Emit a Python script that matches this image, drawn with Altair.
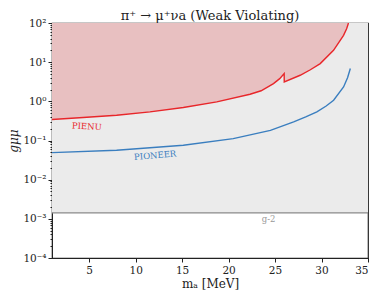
import altair as alt
import pandas as pd

# ---- data ----
pienu_m = [1.0, 4.35, 7.95, 11.54, 15.13, 18.73, 22.31, 23.5, 24.83, 25.5, 25.98, 25.99, 27.7, 28.8, 29.86, 31.29, 32.37, 32.7, 32.9]
pienu_g = [0.344, 0.386, 0.442, 0.537, 0.695, 0.966, 1.52, 1.86, 2.84, 3.8, 5.12, 3.13, 4.63, 6.4, 9.2, 20.1, 48.5, 71.0, 100.0]

pioneer_m = [1.0, 7.95, 15.13, 20.5, 24.5, 27.0, 28.3, 29.5, 30.5, 31.3, 32.37, 32.8, 33.1]
pioneer_g = [0.049, 0.0566, 0.0759, 0.112, 0.182, 0.298, 0.40, 0.537, 0.76, 1.07, 2.33, 4.0, 6.87]

g2_value = 1.42e-3
x_range = [1, 35]
y_range = [1e-4, 100]

labels_text = ["PIENU", "PIONEER", "g-2"]
labels_m = [4.75, 12.1, 24.3]
labels_g = [0.23, 0.042, 9.8e-4]
labels_angle = [3, 355, 0]
labels_color = ["#e8262a", "#3a7ebf", "#999999"]

RED = "#e8262a"
BLUE = "#3a7ebf"
SERIF = "DejaVu Serif"

pienu = pd.DataFrame({"m": pienu_m, "g": pienu_g, "top": 100.0})
pioneer = pd.DataFrame({"m": pioneer_m, "g": pioneer_g})
band = pd.DataFrame({"x1": [x_range[0]], "x2": [x_range[1]], "y1": [g2_value], "y2": [y_range[1]]})
g2 = pd.DataFrame({"m": x_range, "g": [g2_value, g2_value]})

is_major = "abs(log(datum.value)/LN10 - round(log(datum.value)/LN10)) < 1e-6"
exp_ = "round(log(datum.value)/LN10)"
label_expr = (
    f"{is_major} ? ({exp_}==2 ? '10²' : {exp_}==1 ? '10¹' : {exp_}==0 ? '10⁰' : "
    f"{exp_}==-1 ? '10⁻¹' : {exp_}==-2 ? '10⁻²' : {exp_}==-3 ? '10⁻³' : '10⁻⁴') : ''"
)
y_ticks = []
for e in range(-4, 2):
    for k in range(1, 10):
        y_ticks.append(float(f"{k}e{e}"))
y_ticks.append(100.0)

xs = alt.Scale(domain=x_range, nice=False, zero=False)
ys = alt.Scale(type="log", domain=y_range, nice=False)

xax = alt.Axis(values=[5, 10, 15, 20, 25, 30, 35], title="mₐ [MeV]", grid=False,
               tickSize=4, labelFontSize=10.5, titleFontSize=12, labelFont=SERIF, titleFont=SERIF,
               titleFontWeight="normal", labelColor="#222", titleColor="#222", domainColor="#222",
               tickColor="#222", labelPadding=3, titlePadding=3)
yax = alt.Axis(values=y_ticks, labelExpr=label_expr, title="gμμ", grid=False,
               tickSize={"condition": {"test": is_major, "value": 4}, "value": 2},
               labelOverlap=False, labelFontSize=10.5, titleFontSize=12, labelFont=SERIF,
               titleFont=SERIF, titleFontStyle="italic", titleFontWeight="normal",
               labelColor="#222", titleColor="#222", domainColor="#222", tickColor="#222",
               labelPadding=2, titlePadding=2)

band_layer = alt.Chart(band).mark_rect(color="#ebebeb", clip=True).encode(
    x=alt.X("x1:Q", scale=xs, axis=xax), x2="x2:Q",
    y=alt.Y("y1:Q", scale=ys, axis=yax), y2="y2:Q")

red_area = alt.Chart(pienu).mark_area(color="#e8c0c1", opacity=1, interpolate="linear", clip=True).encode(
    x="m:Q", y="g:Q", y2="top:Q")

red_line = alt.Chart(pienu).mark_line(color=RED, strokeWidth=1.4, clip=True).encode(
    x="m:Q", y="g:Q")

blue_line = alt.Chart(pioneer).mark_line(color=BLUE, strokeWidth=1.4, clip=True).encode(
    x="m:Q", y="g:Q")

g2_line = alt.Chart(g2).mark_line(color="#8a8a8a", strokeWidth=1.3, clip=True).encode(x="m:Q", y="g:Q")

lab = pd.DataFrame({"t": labels_text, "m": labels_m, "g": labels_g, "a": labels_angle, "c": labels_color})
text_layer = alt.Chart(lab).mark_text(font=SERIF, fontSize=8.5).encode(
    x="m:Q", y="g:Q", text="t:N", angle=alt.Angle("a:Q", scale=None),
    color=alt.Color("c:N", scale=None))

chart = alt.layer(band_layer, red_area, red_line, blue_line, g2_line, text_layer).properties(
    width=316, height=235,
    title=alt.Title("π⁺ → μ⁺νa (Weak Violating)", font=SERIF, fontSize=13,
                    fontWeight="normal", color="#222", offset=0, dy=5),
    autosize=alt.AutoSizeParams(type="none"),
    padding={"left": 44, "top": 15, "right": 5, "bottom": 40},
).configure_view(stroke="#222", strokeWidth=1.2)

chart.save("out.html", embed_options={"renderer": "svg", "actions": False})
